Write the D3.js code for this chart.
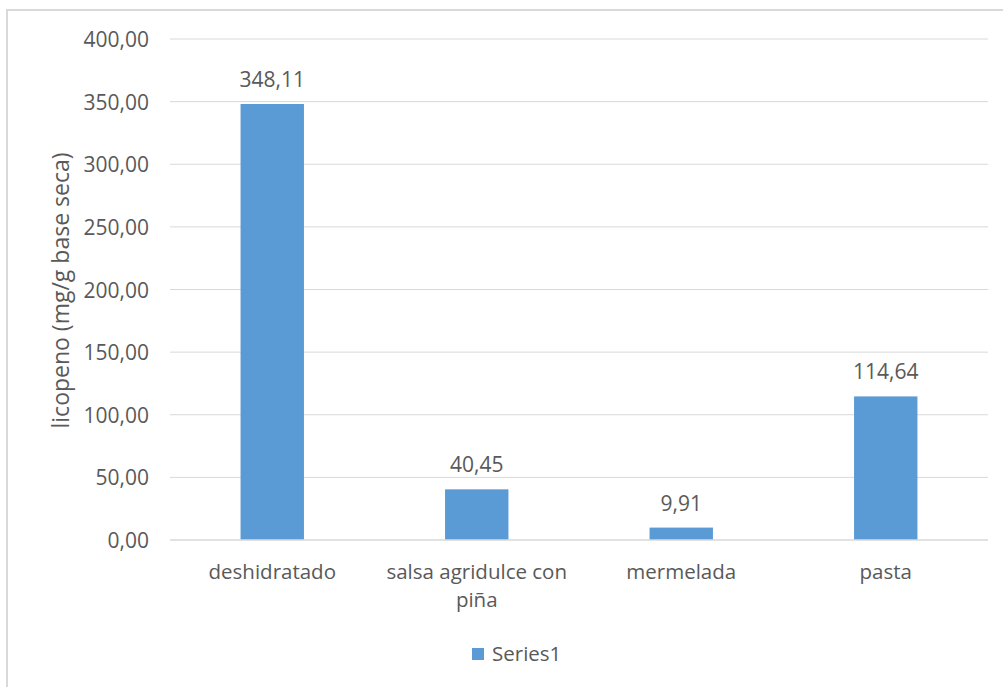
<!DOCTYPE html>
<html>
<head>
<meta charset="utf-8">
<script src="https://cdn.jsdelivr.net/npm/d3@7"></script>
<style>
  html, body { margin: 0; padding: 0; background: #fff; }
  svg { display: block; }
  text { font-family: "Open Sans", "Liberation Sans", sans-serif; fill: #595959; }
</style>
</head>
<body>
<svg id="chart" width="1003" height="687"></svg>
<script>
// Lycopene content per product
const categories = ["deshidratado", "salsa agridulce con piña", "mermelada", "pasta"];
const values = [348.11, 40.45, 9.91, 114.64];
const yTicks = [0, 50, 100, 150, 200, 250, 300, 350, 400];
const seriesName = "Series1";
const yTitle = "licopeno (mg/g base seca)";

const svg = d3.select("#chart");
const W = 1003, H = 687;
const plot = { left: 170, right: 988, top: 39, bottom: 540 };
const barColor = "#5b9bd5";
const fmt = v => d3.format(".2f")(v).replace(".", ",");

// outer chart frame
svg.append("rect")
  .attr("x", 7).attr("y", 10)
  .attr("width", W + 10).attr("height", H + 10)
  .attr("fill", "#fff").attr("stroke", "#d9d9d9").attr("stroke-width", 2);

const x = d3.scaleBand().domain(categories).range([plot.left, plot.right]).paddingInner(0.69).paddingOuter(0.345);
const y = d3.scaleLinear().domain([0, 400]).range([plot.bottom, plot.top]);

// gridlines
svg.append("g").selectAll("line").data(yTicks.filter(t => t > 0)).join("line")
  .attr("x1", plot.left).attr("x2", plot.right)
  .attr("y1", d => y(d)).attr("y2", d => y(d))
  .attr("stroke", "#d9d9d9").attr("stroke-width", 1);

// y tick labels
const yAxis = d3.axisLeft(y).tickValues(yTicks).tickFormat(fmt).tickSize(0).tickPadding(0);
const gy = svg.append("g").attr("transform", `translate(${plot.left - 21},0)`).call(yAxis);
gy.select(".domain").remove();
gy.selectAll("text").attr("font-size", 21).attr("fill", "#595959")
  .style("font-family", '"Open Sans", sans-serif').attr("dy", "0.36em");

// bars
svg.append("g").selectAll("rect").data(values).join("rect")
  .attr("x", (d, i) => x(categories[i]))
  .attr("width", x.bandwidth())
  .attr("y", d => y(d))
  .attr("height", d => y(0) - y(d))
  .attr("fill", barColor);

// baseline
svg.append("line")
  .attr("x1", plot.left).attr("x2", plot.right)
  .attr("y1", y(0)).attr("y2", y(0))
  .attr("stroke", "#d9d9d9").attr("stroke-width", 1.5);

// value labels
svg.append("g").selectAll("text").data(values).join("text")
  .attr("x", (d, i) => x(categories[i]) + x.bandwidth() / 2)
  .attr("y", d => y(d) - 17)
  .attr("text-anchor", "middle").attr("font-size", 21)
  .text(d => fmt(d));

// category labels (wrapped)
const lines = {
  "deshidratado": ["deshidratado"],
  "salsa agridulce con piña": ["salsa agridulce con", "piña"],
  "mermelada": ["mermelada"],
  "pasta": ["pasta"]
};
const xl = svg.append("g").selectAll("text").data(categories).join("text")
  .attr("x", d => x(d) + x.bandwidth() / 2)
  .attr("y", 579)
  .attr("text-anchor", "middle").attr("font-size", 20.5);
xl.selectAll("tspan").data(d => lines[d].map(t => ({ t, c: d }))).join("tspan")
  .attr("x", d => x(d.c) + x.bandwidth() / 2)
  .attr("dy", (d, i) => i === 0 ? 0 : 28)
  .text(d => d.t);

// y axis title
svg.append("text")
  .attr("transform", `translate(69,${(plot.top + plot.bottom) / 2 + 1}) rotate(-90)`)
  .attr("text-anchor", "middle").attr("font-size", 23)
  .text(yTitle);

// legend
const lg = svg.append("g").attr("transform", "translate(472,648)");
lg.append("rect").attr("width", 12).attr("height", 12).attr("fill", barColor);
lg.append("text").attr("x", 20).attr("y", 13).attr("font-size", 20.5).text(seriesName);
</script>
</body>
</html>
